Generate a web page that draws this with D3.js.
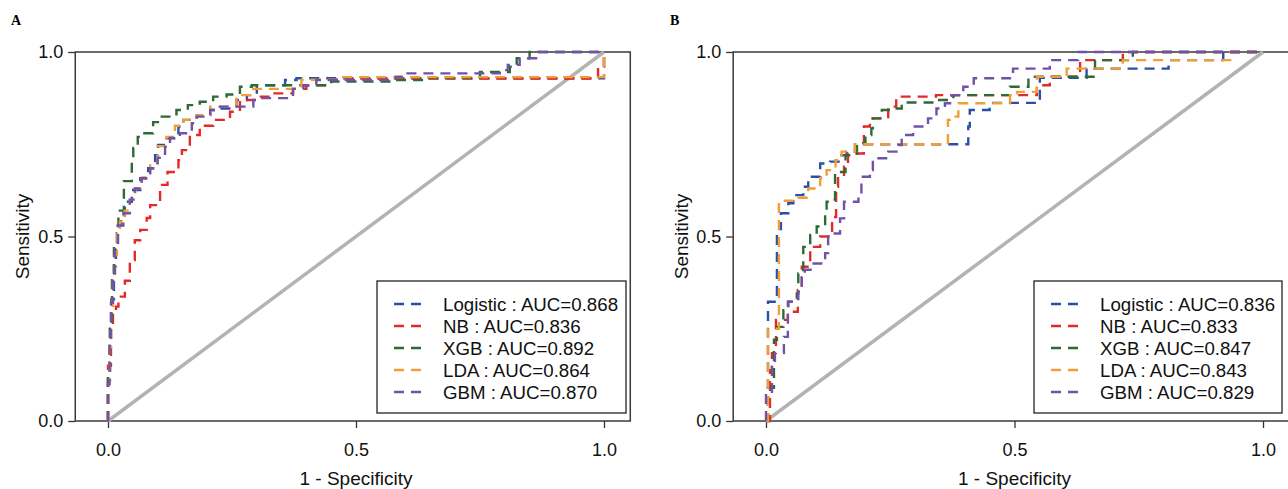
<!DOCTYPE html>
<html>
<head>
<meta charset="utf-8">
<script src="https://cdn.jsdelivr.net/npm/d3@7"></script>
<style>
  body { margin: 0; background: #fff; }
  svg { display: block; font-family: Arial, "Liberation Sans", sans-serif; }
</style>
</head>
<body>
<svg id="chart" width="1288" height="489"></svg>
<script>
// models, AUCs and axis ticks
const models = ['Logistic', 'NB', 'XGB', 'LDA', 'GBM'];
const aucA = ['0.868', '0.836', '0.892', '0.864', '0.870'];
const aucB = ['0.836', '0.833', '0.847', '0.843', '0.829'];
const ticks = [0, 0.5, 1];

// ROC points [1 - specificity, sensitivity], panel A (training set)
const rocA_logistic = [[0,0],[0.004,0.11],[0.007,0.25],[0.012,0.33],[0.016,0.42],[0.02,0.47],[0.026,0.53],[0.034,0.55],[0.048,0.594],[0.065,0.626],[0.081,0.658],[0.095,0.685],[0.101,0.72],[0.118,0.748],[0.142,0.766],[0.152,0.798],[0.179,0.816],[0.206,0.829],[0.226,0.843],[0.259,0.847],[0.28,0.87],[0.30,0.883],[0.357,0.91],[0.38,0.924],[0.41,0.929],[1,0.929],[1,1]];
const rocA_nb = [[0,0],[0.006,0.15],[0.01,0.25],[0.016,0.29],[0.021,0.31],[0.034,0.337],[0.044,0.38],[0.054,0.436],[0.065,0.49],[0.078,0.518],[0.085,0.55],[0.105,0.585],[0.12,0.64],[0.142,0.675],[0.149,0.707],[0.165,0.734],[0.185,0.775],[0.212,0.80],[0.246,0.816],[0.266,0.838],[0.30,0.87],[0.333,0.879],[0.373,0.888],[0.40,0.90],[0.44,0.91],[0.49,0.925],[0.988,0.928],[1,0.96],[1,1]];
const rocA_xgb = [[0,0],[0.004,0.12],[0.008,0.27],[0.012,0.4],[0.018,0.48],[0.021,0.509],[0.032,0.57],[0.048,0.65],[0.051,0.70],[0.06,0.74],[0.068,0.77],[0.091,0.78],[0.105,0.81],[0.138,0.825],[0.161,0.843],[0.185,0.856],[0.212,0.865],[0.239,0.879],[0.266,0.885],[0.29,0.906],[0.45,0.91],[0.58,0.92],[0.64,0.924],[0.75,0.93],[0.81,0.946],[0.824,0.96],[0.85,0.983],[1,1]];
const rocA_lda = [[0,0],[0.003,0.1],[0.006,0.2],[0.01,0.3],[0.014,0.38],[0.018,0.45],[0.024,0.52],[0.034,0.54],[0.044,0.57],[0.055,0.6],[0.068,0.63],[0.085,0.66],[0.1,0.7],[0.118,0.745],[0.135,0.77],[0.152,0.80],[0.179,0.816],[0.206,0.829],[0.259,0.852],[0.293,0.883],[0.306,0.90],[0.39,0.90],[0.47,0.925],[1,0.932],[1,1]];
const rocA_gbm = [[0,0],[0.003,0.1],[0.006,0.22],[0.01,0.32],[0.014,0.4],[0.02,0.47],[0.031,0.53],[0.044,0.563],[0.054,0.6],[0.068,0.63],[0.085,0.658],[0.1,0.685],[0.115,0.713],[0.125,0.743],[0.145,0.767],[0.169,0.78],[0.179,0.807],[0.206,0.825],[0.226,0.843],[0.293,0.852],[0.306,0.87],[0.373,0.875],[0.394,0.90],[0.42,0.91],[0.58,0.924],[0.60,0.933],[0.79,0.942],[0.806,0.951],[0.83,0.965],[0.867,0.983],[1,1]];

// ROC points, panel B (validation set)
const rocB_logistic = [[0,0],[0.004,0],[0.022,0.323],[0.03,0.52],[0.045,0.563],[0.055,0.59],[0.075,0.612],[0.085,0.635],[0.109,0.662],[0.129,0.698],[0.146,0.703],[0.162,0.72],[0.179,0.73],[0.407,0.75],[0.41,0.798],[0.45,0.843],[0.551,0.862],[0.645,0.93],[0.81,0.955],[0.92,0.978],[1,1]];
const rocB_nb = [[0,0],[0.008,0],[0.012,0.138],[0.02,0.184],[0.044,0.274],[0.064,0.296],[0.072,0.355],[0.089,0.418],[0.109,0.472],[0.133,0.50],[0.141,0.553],[0.145,0.635],[0.157,0.662],[0.165,0.689],[0.197,0.725],[0.209,0.798],[0.246,0.82],[0.262,0.852],[0.342,0.879],[0.545,0.883],[0.571,0.91],[0.632,0.933],[0.718,0.978],[1,1]];
const rocB_xgb = [[0,0],[0.004,0],[0.016,0.09],[0.022,0.22],[0.035,0.255],[0.045,0.30],[0.062,0.323],[0.065,0.346],[0.075,0.40],[0.089,0.472],[0.102,0.504],[0.119,0.527],[0.122,0.558],[0.135,0.594],[0.139,0.60],[0.16,0.675],[0.183,0.72],[0.2,0.753],[0.212,0.775],[0.215,0.793],[0.233,0.82],[0.26,0.843],[0.273,0.847],[0.343,0.863],[0.377,0.87],[0.491,0.883],[0.528,0.906],[0.662,0.933],[0.738,0.978],[1,1]];
const rocB_lda = [[0,0],[0.004,0],[0.026,0.25],[0.065,0.597],[0.085,0.605],[0.109,0.63],[0.122,0.658],[0.14,0.68],[0.152,0.707],[0.179,0.73],[0.186,0.75],[0.366,0.75],[0.376,0.816],[0.387,0.825],[0.491,0.861],[0.505,0.888],[0.545,0.892],[0.605,0.933],[0.718,0.955],[0.934,0.978],[1,1]];
const rocB_gbm = [[0,0],[0.012,0.07],[0.018,0.147],[0.036,0.184],[0.044,0.228],[0.065,0.323],[0.072,0.35],[0.078,0.39],[0.092,0.41],[0.119,0.427],[0.125,0.455],[0.131,0.50],[0.149,0.508],[0.157,0.549],[0.186,0.594],[0.192,0.62],[0.209,0.662],[0.215,0.68],[0.246,0.712],[0.266,0.73],[0.273,0.748],[0.296,0.775],[0.326,0.798],[0.343,0.82],[0.36,0.847],[0.374,0.861],[0.397,0.883],[0.418,0.906],[0.497,0.929],[0.571,0.955],[0.628,0.978],[1,1]];

const colors = ['#2a4fa6', '#e5292b', '#2e6a36', '#f09e35', '#7152a8'];

const svg = d3.select('#chart');

function drawPanel(opt) {
  let x = d3.scaleLinear().domain([0, 1]).range([opt.x0, opt.x1]);
  let y = d3.scaleLinear().domain([0, 1]).range([421, 52]);
  let boxL = x(-0.066), boxR = x(1.053);
  let g = svg.append('g');

  // panel letter
  g.append('text')
    .attr('x', opt.letterX).attr('y', 25)
    .style('font-family', '"Liberation Serif", "Times New Roman", serif')
    .style('font-weight', 'bold').style('font-size', '14px')
    .text(opt.letter);

  // axes
  let yAxis = d3.axisLeft(y).tickValues(ticks).tickFormat(d3.format('.1f')).tickSize(7).tickPadding(5);
  let xAxis = d3.axisBottom(x).tickValues(ticks).tickFormat(d3.format('.1f')).tickSize(7).tickPadding(15);
  let ya = g.append('g').attr('transform', 'translate(' + boxL + ',0)').call(yAxis);
  let xa = g.append('g').attr('transform', 'translate(0,421)').call(xAxis);
  [ya, xa].forEach(function (a) {
    a.select('.domain').remove();
    a.selectAll('line').attr('stroke', '#333').attr('stroke-width', 1.3);
    a.selectAll('text').style('font-size', '18px').attr('fill', '#111')
      .style('font-family', 'Arial, "Liberation Sans", sans-serif');
  });

  // plot box
  g.append('rect')
    .attr('x', boxL).attr('y', 52)
    .attr('width', boxR - boxL).attr('height', 421 - 52)
    .attr('fill', 'none').attr('stroke', '#3a3a3a').attr('stroke-width', 1.5);

  // axis titles
  g.append('text')
    .attr('transform', 'translate(' + opt.ylabX + ',' + y(0.5) + ') rotate(-90)')
    .attr('text-anchor', 'middle').style('font-size', '19px').attr('fill', '#111')
    .text('Sensitivity');
  g.append('text')
    .attr('x', x(0.5)).attr('y', 485)
    .attr('text-anchor', 'middle').style('font-size', '19px').attr('fill', '#111')
    .text('1 - Specificity');

  // reference diagonal
  g.append('line')
    .attr('x1', x(0)).attr('y1', y(0)).attr('x2', x(1)).attr('y2', y(1))
    .attr('stroke', '#b3b3b3').attr('stroke-width', 3.5);

  // ROC curves
  let line = d3.line()
    .x(function (d) { return x(d[0]); })
    .y(function (d) { return y(d[1]); })
    .curve(d3.curveStepBefore);

  g.selectAll('path.roc')
    .data(opt.curves)
    .enter()
    .append('path')
    .attr('class', 'roc')
    .attr('d', line)
    .attr('fill', 'none')
    .attr('stroke', function (d, i) { return colors[i]; })
    .attr('stroke-width', 2.4)
    .attr('stroke-dasharray', '10,7');

  // legend
  let lg = g.append('g').attr('transform', 'translate(' + opt.legX + ',281)');
  lg.append('rect')
    .attr('width', opt.legW).attr('height', 132)
    .attr('fill', '#fff').attr('stroke', '#222').attr('stroke-width', 1.3);
  let rows = lg.selectAll('g.row')
    .data(models)
    .enter()
    .append('g')
    .attr('class', 'row')
    .attr('transform', function (d, i) { return 'translate(0,' + (23 + i * 22) + ')'; });
  rows.append('line')
    .attr('x1', 17).attr('x2', 45)
    .attr('stroke', function (d, i) { return colors[i]; })
    .attr('stroke-width', 2.4)
    .attr('stroke-dasharray', '10,7');
  rows.append('text')
    .attr('x', 66).attr('dy', '0.36em')
    .style('font-size', '18.7px').attr('fill', '#111')
    .text(function (d, i) { return d + ' : AUC=' + opt.auc[i]; });
}

drawPanel({
  letter: 'A', letterX: 11, x0: 108, x1: 604, ylabX: 29, legX: 377, legW: 249,
  auc: aucA,
  curves: [rocA_logistic, rocA_nb, rocA_xgb, rocA_lda, rocA_gbm]
});

drawPanel({
  letter: 'B', letterX: 670, x0: 766, x1: 1263, ylabX: 688, legX: 1034, legW: 248,
  auc: aucB,
  curves: [rocB_logistic, rocB_nb, rocB_xgb, rocB_lda, rocB_gbm]
});
</script>
</body>
</html>
